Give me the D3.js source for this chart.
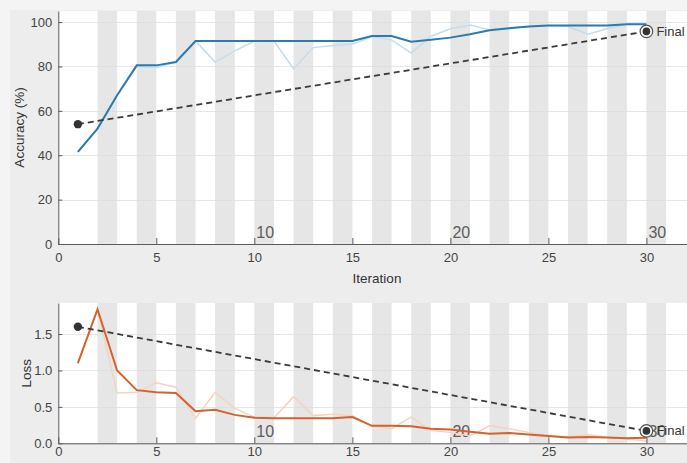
<html>
<head>
<style>
  html, body { margin: 0; padding: 0; background: #f4f4f4; }
  svg { display: block; font-family: "Liberation Sans", Arial, sans-serif; }
</style>
</head>
<body>
<svg id="viz"></svg>
<script src="https://cdn.jsdelivr.net/npm/d3@7"></script>
<script>
// training progress data
var iterations = d3.range(1, 31);
var accSmooth = [41.5, 52, 67, 80.5, 80.5, 82, 91.5, 91.5, 91.5, 91.5, 91.5, 91.5, 91.5, 91.5, 91.5,
                 93.7, 93.7, 91.2, 92, 93, 94.5, 96.3, 97.2, 98, 98.5, 98.5, 98.5, 98.5, 99, 99];
var accRaw = [41.5, 52, 67, 80, 79.5, 82, 91.5, 82, 87, 91.5, 91.5, 79, 88.5, 89.5, 90,
              93.5, 92, 86, 93.5, 97, 98.7, 96.5, 97.5, 98, 98.5, 98, 94.5, 97, 99, 99];
var lossSmooth = [1.1, 1.84, 1.0, 0.73, 0.70, 0.69, 0.44, 0.46, 0.39, 0.35, 0.345, 0.345, 0.345, 0.345, 0.36,
                  0.24, 0.24, 0.235, 0.20, 0.19, 0.16, 0.13, 0.14, 0.12, 0.10, 0.08, 0.085, 0.08, 0.07, 0.075];
var lossRaw = [1.1, 1.84, 0.69, 0.70, 0.83, 0.77, 0.34, 0.70, 0.48, 0.36, 0.35, 0.64, 0.38, 0.40, 0.38,
               0.24, 0.20, 0.36, 0.18, 0.15, 0.10, 0.24, 0.20, 0.15, 0.10, 0.09, 0.12, 0.08, 0.06, 0.03];
var valIter = [1, 30];
var valAcc = [54, 95.8];
var valLoss = [1.6, 0.17];
var epochLabels = [10, 20, 30];
var accTicks = [0, 20, 40, 60, 80, 100];
var lossTicks = [0, 0.5, 1, 1.5];
var iterTicks = [0, 5, 10, 15, 20, 25, 30];

var width = 687;
var height = 463;

var svg = d3.select("#viz").attr("width", width).attr("height", height);

// figure background
svg.append("rect").attr("x", 10).attr("y", 10).attr("width", width - 10).attr("height", height - 10)
   .attr("fill", "#ededed");

var x = d3.scaleLinear().domain([0, 32.07]).range([58.3, 687]);

function panel(opts) {
  var y = d3.scaleLinear().domain(opts.ydomain).range([opts.bottom, opts.top]);
  var g = svg.append("g");
  var clipId = "clip" + opts.name;
  svg.append("clipPath").attr("id", clipId).append("rect")
     .attr("x", x(0)).attr("y", opts.top).attr("width", width - x(0)).attr("height", opts.bottom - opts.top);

  g.append("rect").attr("x", x(0)).attr("y", opts.top)
   .attr("width", width - x(0)).attr("height", opts.bottom - opts.top).attr("fill", "#ffffff");

  // alternating epoch shading
  var stripes = d3.range(1, 16).map(function(k) { return 2 * k; });
  g.append("g").attr("clip-path", "url(#" + clipId + ")")
   .selectAll("rect").data(stripes).enter().append("rect")
   .attr("x", function(d) { return x(d); })
   .attr("width", function(d) { return x(d + 1) - x(d); })
   .attr("y", opts.top).attr("height", opts.bottom - opts.top)
   .attr("fill", "#e6e6e6");

  // grid
  g.append("g").selectAll("line").data(opts.yticks).enter().append("line")
   .attr("x1", x(0)).attr("x2", width)
   .attr("y1", function(d) { return Math.round(y(d)) + 0.5; })
   .attr("y2", function(d) { return Math.round(y(d)) + 0.5; })
   .attr("stroke", "#dcdcdc").attr("stroke-opacity", 0.7);

  // epoch labels
  g.append("g").selectAll("text").data(epochLabels).enter().append("text")
   .attr("x", function(d) { return x(d) + 2; })
   .attr("y", opts.bottom - 6)
   .attr("fill", "#5c5c5c").attr("font-size", 16)
   .text(function(d) { return d; });

  var plot = g.append("g").attr("clip-path", "url(#" + clipId + ")");
  var line = d3.line().x(function(d) { return x(d[0]); }).y(function(d) { return y(d[1]); });

  plot.append("path").datum(d3.zip(iterations, opts.raw)).attr("d", line)
      .attr("fill", "none").attr("stroke", opts.light).attr("stroke-width", 1.5);
  plot.append("path").datum(d3.zip(iterations, opts.smooth)).attr("d", line)
      .attr("fill", "none").attr("stroke", opts.dark).attr("stroke-width", 2);
  plot.append("path").datum(d3.zip(valIter, opts.val)).attr("d", line)
      .attr("fill", "none").attr("stroke", "#3a3a3a").attr("stroke-width", 1.8)
      .attr("stroke-dasharray", "6,4");

  plot.append("circle").attr("cx", x(valIter[0])).attr("cy", y(opts.val[0])).attr("r", 4.2).attr("fill", "#333");
  plot.append("circle").attr("cx", x(valIter[1])).attr("cy", y(opts.val[1])).attr("r", 6.3)
      .attr("fill", "#f4f4f4").attr("stroke", "#555").attr("stroke-width", 1.2);
  plot.append("circle").attr("cx", x(valIter[1])).attr("cy", y(opts.val[1])).attr("r", 3.8).attr("fill", "#333");
  plot.append("text").attr("x", x(valIter[1]) + 10).attr("y", y(opts.val[1]) + 4.5)
      .attr("font-size", 13).attr("fill", "#333").text("Final");

  // axes
  var xAxis = g.append("g").attr("transform", "translate(0," + opts.bottom + ")")
    .call(d3.axisBottom(x).tickValues(iterTicks).tickSizeInner(-6).tickSizeOuter(0).tickPadding(opts.xpad));
  var yAxis = g.append("g").attr("transform", "translate(" + x(0) + ",0)")
    .call(d3.axisLeft(y).tickValues(opts.yticks).tickSizeInner(-4).tickSizeOuter(0).tickPadding(6));
  [xAxis, yAxis].forEach(function(a) {
    a.select(".domain").attr("stroke", "#5a5a5a");
    a.selectAll(".tick line").attr("stroke", "#5a5a5a");
    a.selectAll(".tick text").attr("fill", "#444").attr("font-size", 13)
     .attr("font-family", "\"Liberation Sans\", Arial, sans-serif");
  });
  xAxis.select(".domain").attr("d", "M" + x(0) + ",0.5H" + width);

  g.append("text").attr("transform", "translate(" + opts.labelX + "," + ((opts.top + opts.bottom) / 2) + ") rotate(-90)")
   .attr("text-anchor", "middle").attr("font-size", 13.5).attr("fill", "#333").text(opts.label);
  return g;
}

panel({ name: "acc", top: 11, bottom: 244, ydomain: [0, 105], yticks: accTicks,
        raw: accRaw, smooth: accSmooth, val: valAcc, light: "#c4dceb", dark: "#2b7bb3",
        label: "Accuracy (%)", labelX: 24, xpad: 9 });

svg.append("text").attr("x", 377).attr("y", 283).attr("text-anchor", "middle")
   .attr("font-size", 13.5).attr("fill", "#333").text("Iteration");

panel({ name: "loss", top: 303, bottom: 443.3, ydomain: [0, 1.926], yticks: lossTicks,
        raw: lossRaw, smooth: lossSmooth, val: valLoss, light: "#f3d3c3", dark: "#d4622e",
        label: "Loss", labelX: 31, xpad: 3 });
</script>
</body>
</html>
